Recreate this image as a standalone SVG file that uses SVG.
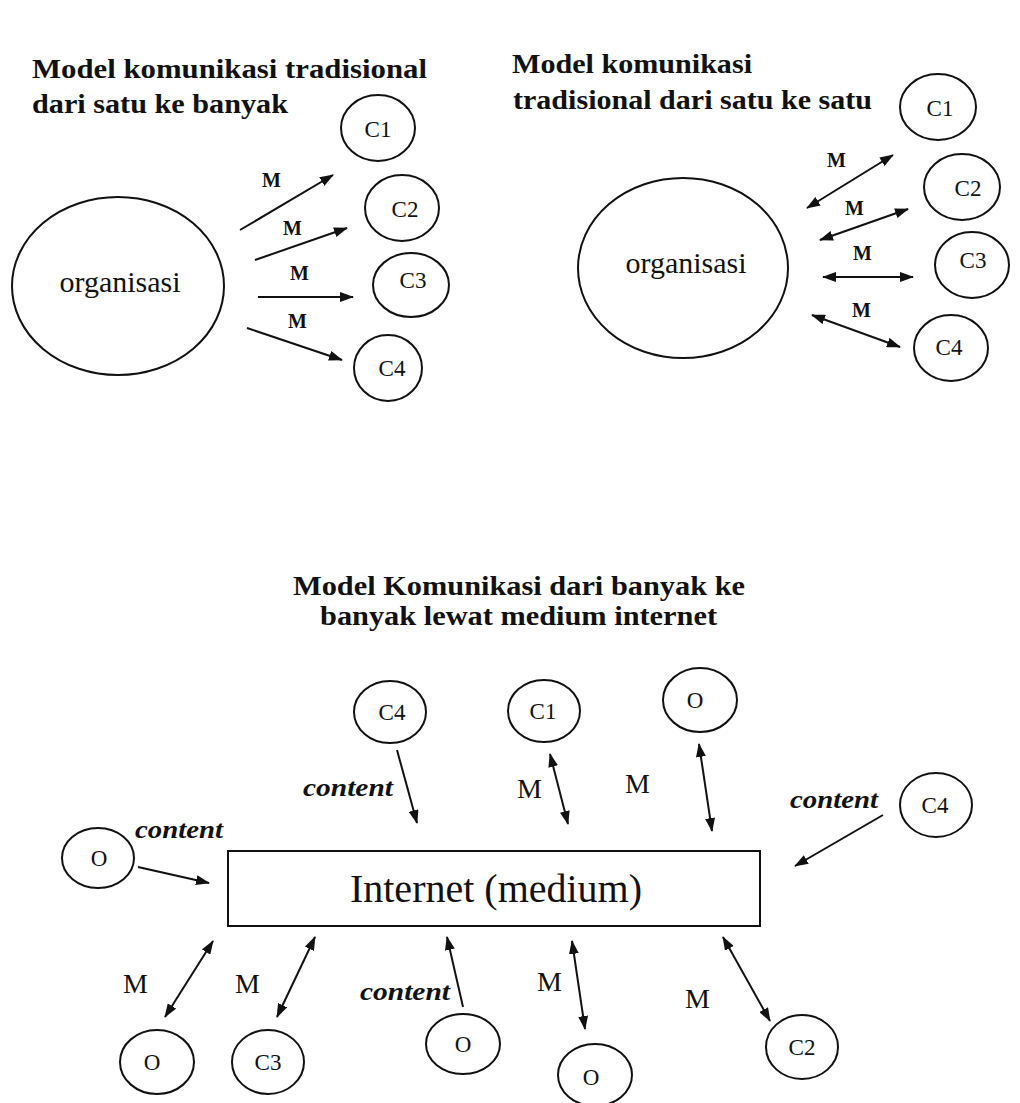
<svg xmlns="http://www.w3.org/2000/svg" width="1020" height="1103" viewBox="0 0 1020 1103">
<style>
.title{font-family:"Liberation Serif","Times New Roman",serif;font-weight:bold;font-size:28px;fill:#111}
.node{fill:none;stroke:#111;stroke-width:2}
.lbl{font-family:"Liberation Serif","Times New Roman",serif;font-size:23px;fill:#111;text-anchor:middle}
.org{font-family:"Liberation Serif","Times New Roman",serif;font-size:30px;fill:#111;text-anchor:middle}
.mb{font-family:"Liberation Serif","Times New Roman",serif;font-weight:bold;font-size:20px;fill:#111}
.mr{font-family:"Liberation Serif","Times New Roman",serif;font-size:28px;fill:#111}
.ct{font-family:"Liberation Serif","Times New Roman",serif;font-weight:bold;font-style:italic;font-size:26px;fill:#111}
.one{stroke:#111;stroke-width:2;fill:none;marker-end:url(#ah)}
.two{stroke:#111;stroke-width:2;fill:none;marker-end:url(#ah);marker-start:url(#ah)}
</style>
<defs>
<marker id="ah" viewBox="0 0 14 10" markerWidth="14" markerHeight="10" refX="13" refY="5" orient="auto-start-reverse" markerUnits="userSpaceOnUse">
<path d="M0,0 L14,5 L0,10 z" fill="#111"/>
</marker>
</defs>
<rect width="1020" height="1103" fill="#fff"/>

<g id="titles">
<text class="title" x="32" y="78" textLength="395" lengthAdjust="spacingAndGlyphs">Model komunikasi tradisional</text>
<text class="title" x="32" y="113" textLength="256" lengthAdjust="spacingAndGlyphs">dari satu ke banyak</text>
<text class="title" x="512" y="73" textLength="240" lengthAdjust="spacingAndGlyphs">Model komunikasi</text>
<text class="title" x="513" y="109" textLength="359" lengthAdjust="spacingAndGlyphs">tradisional dari satu ke satu</text>
<text class="title" x="293" y="595" textLength="452" lengthAdjust="spacingAndGlyphs">Model Komunikasi dari banyak ke</text>
<text class="title" x="320" y="625" textLength="397" lengthAdjust="spacingAndGlyphs">banyak lewat medium internet</text>
</g>

<!-- top left -->
<g id="org1"><ellipse class="node" cx="118" cy="286" rx="106" ry="89"/><text class="org" x="120" y="292">organisasi</text></g>
<g id="tl-c1"><ellipse class="node" cx="378" cy="128" rx="37" ry="33"/><text class="lbl" x="378" y="137">C1</text></g>
<g id="tl-c2"><ellipse class="node" cx="402" cy="208" rx="37" ry="33"/><text class="lbl" x="405" y="217">C2</text></g>
<g id="tl-c3"><ellipse class="node" cx="411" cy="285" rx="38" ry="32"/><text class="lbl" x="413" y="288">C3</text></g>
<g id="tl-c4"><ellipse class="node" cx="388" cy="368" rx="34" ry="33"/><text class="lbl" x="392" y="376">C4</text></g>

<!-- top right -->
<g id="org2"><ellipse class="node" cx="683" cy="268" rx="105" ry="90"/><text class="org" x="686" y="273">organisasi</text></g>
<g id="tr-c1"><ellipse class="node" cx="938" cy="107" rx="38" ry="33"/><text class="lbl" x="940" y="116">C1</text></g>
<g id="tr-c2"><ellipse class="node" cx="962" cy="187" rx="38" ry="33"/><text class="lbl" x="968" y="196">C2</text></g>
<g id="tr-c3"><ellipse class="node" cx="972" cy="265" rx="37" ry="33"/><text class="lbl" x="973" y="268">C3</text></g>
<g id="tr-c4"><ellipse class="node" cx="951" cy="348" rx="37" ry="33"/><text class="lbl" x="949" y="355">C4</text></g>

<!-- bottom -->
<g id="internet"><rect class="node" x="228" y="851" width="532" height="75"/><text x="496" y="902" font-family="Liberation Serif, Times New Roman, serif" font-size="40" fill="#111" text-anchor="middle">Internet (medium)</text></g>
<g id="b-c4top"><ellipse class="node" cx="390" cy="712" rx="36" ry="31"/><text class="lbl" x="392" y="720">C4</text></g>
<g id="b-c1top"><ellipse class="node" cx="544" cy="711" rx="36" ry="31"/><text class="lbl" x="543" y="719">C1</text></g>
<g id="b-otop"><ellipse class="node" cx="700" cy="700" rx="37" ry="32"/><text class="lbl" x="695" y="708">O</text></g>
<g id="b-oleft"><ellipse class="node" cx="98" cy="858" rx="36" ry="30"/><text class="lbl" x="99" y="866">O</text></g>
<g id="b-c4right"><ellipse class="node" cx="936" cy="805" rx="36" ry="32"/><text class="lbl" x="935" y="813">C4</text></g>
<g id="b-obl"><ellipse class="node" cx="157" cy="1062" rx="37" ry="32"/><text class="lbl" x="152" y="1070">O</text></g>
<g id="b-c3"><ellipse class="node" cx="268" cy="1062" rx="36" ry="32"/><text class="lbl" x="268" y="1070">C3</text></g>
<g id="b-ocenter"><ellipse class="node" cx="463" cy="1044" rx="37" ry="30"/><text class="lbl" x="463" y="1052">O</text></g>
<g id="b-obottom"><ellipse class="node" cx="595" cy="1075" rx="37" ry="31"/><text class="lbl" x="591" y="1085">O</text></g>
<g id="b-c2"><ellipse class="node" cx="802" cy="1047" rx="36" ry="32"/><text class="lbl" x="802" y="1055">C2</text></g>

<g id="connectors">
<line class="one" x1="240" y1="230" x2="333" y2="175"/>
<line class="one" x1="255" y1="260" x2="347" y2="228"/>
<line class="one" x1="258" y1="297" x2="353" y2="297"/>
<line class="one" x1="247" y1="328" x2="342" y2="360"/>

<line class="two" x1="807" y1="208" x2="893" y2="155"/>
<line class="two" x1="820" y1="240" x2="908" y2="209"/>
<line class="two" x1="823" y1="277" x2="913" y2="277"/>
<line class="two" x1="812" y1="315" x2="900" y2="347"/>

<line class="one" x1="397" y1="750" x2="417" y2="823"/>
<line class="two" x1="550" y1="754" x2="568" y2="824"/>
<line class="two" x1="699" y1="744" x2="712" y2="831"/>
<line class="one" x1="138" y1="867" x2="209" y2="883"/>
<line class="one" x1="883" y1="815" x2="795" y2="866"/>
<line class="two" x1="213" y1="941" x2="165" y2="1017"/>
<line class="two" x1="315" y1="937" x2="277" y2="1017"/>
<line class="one" x1="463" y1="1007" x2="447" y2="937"/>
<line class="two" x1="572" y1="941" x2="585" y2="1029"/>
<line class="two" x1="723" y1="937" x2="770" y2="1021"/>
</g>

<g id="labels">
<text class="mb" x="262" y="187">M</text>
<text class="mb" x="283" y="235">M</text>
<text class="mb" x="290" y="280">M</text>
<text class="mb" x="288" y="328">M</text>
<text class="mb" x="827" y="167">M</text>
<text class="mb" x="845" y="215">M</text>
<text class="mb" x="853" y="260">M</text>
<text class="mb" x="852" y="317">M</text>

<text class="ct" x="303" y="796" textLength="90" lengthAdjust="spacingAndGlyphs">content</text>
<text class="ct" x="135" y="838" textLength="88" lengthAdjust="spacingAndGlyphs">content</text>
<text class="ct" x="790" y="808" textLength="88" lengthAdjust="spacingAndGlyphs">content</text>
<text class="ct" x="360" y="1000" textLength="90" lengthAdjust="spacingAndGlyphs">content</text>
<text class="mr" x="517" y="798">M</text>
<text class="mr" x="625" y="793">M</text>
<text class="mr" x="123" y="993">M</text>
<text class="mr" x="235" y="993">M</text>
<text class="mr" x="537" y="991">M</text>
<text class="mr" x="685" y="1008">M</text>
</g>
</svg>
